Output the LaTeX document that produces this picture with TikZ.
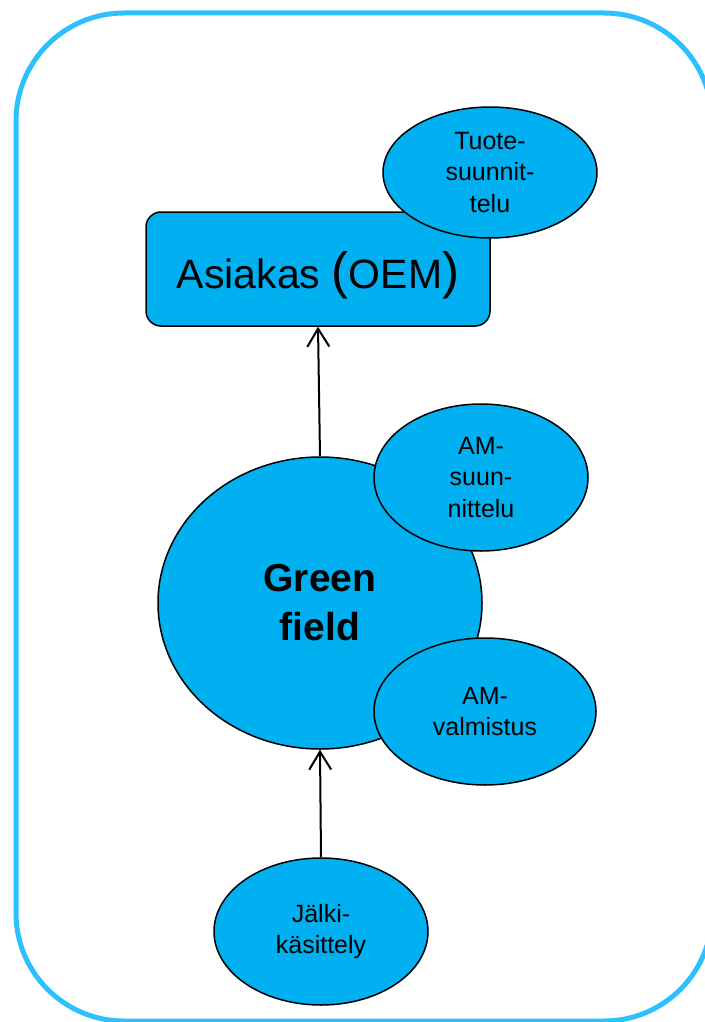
\documentclass[tikz,border=0pt]{standalone}
\usepackage{fontspec}
\setmainfont{Liberation Sans}
\usetikzlibrary{shapes.geometric,arrows.meta}
\definecolor{nodeblue}{HTML}{00B0F0}
\definecolor{frameblue}{RGB}{44,192,255}
\tikzset{
  frame/.style={draw=frameblue,line width=5pt,rounded corners=108pt},
  blob/.style={ellipse,draw=black,line width=1.5pt,fill=nodeblue,inner sep=0pt,align=center,
     font=\fontsize{25}{31.5}\selectfont},
  boxnode/.style={rectangle,draw=black,line width=1.5pt,fill=nodeblue,rounded corners=15pt,inner sep=0pt},
  flow/.style={line width=2pt,-{Straight Barb[length=18pt,width=22pt,line width=2pt]}}
}
\begin{document}
\begin{tikzpicture}[x=1pt,y=-1pt]
\useasboundingbox (0,0) rectangle (704,1022);
\draw[frame] (16,13) rectangle (712,1021);
% Asiakas box
\node[boxnode,minimum width=344pt,minimum height=114pt,text height=38pt,text depth=0pt,
      font=\fontsize{41}{41}\selectfont] (asiakas) at (318,269)
      {Asiakas {\fontsize{51}{51}\selectfont(}OEM{\fontsize{51}{51}\selectfont)}};
\node[blob,minimum width=214pt,minimum height=131pt] (tuote) at (490,172.5)
      {Tuote-\\suunnit-\\telu};
% Green field
\node[ellipse,draw=black,line width=1.5pt,fill=nodeblue,inner sep=0pt,align=center,
      minimum width=324pt,minimum height=292pt,font=\bfseries\fontsize{39}{49}\selectfont]
      (green) at (320,603) {Green\\field};
\node[blob,minimum width=214pt,minimum height=147pt] (amsuun) at (481,477.5)
      {AM-\\suun-\\nittelu};
\node[blob,minimum width=222pt,minimum height=147pt] (amval) at (485,711.5)
      {AM-\\valmistus};
\node[blob,minimum width=214pt,minimum height=147pt] (jalki) at (321,931.5)
      {Jälki-\\käsittely};
% connectors
\draw[flow] (green.north) -- (asiakas.south);
\draw[flow] (jalki.north) -- (green.south);
\end{tikzpicture}
\end{document}
